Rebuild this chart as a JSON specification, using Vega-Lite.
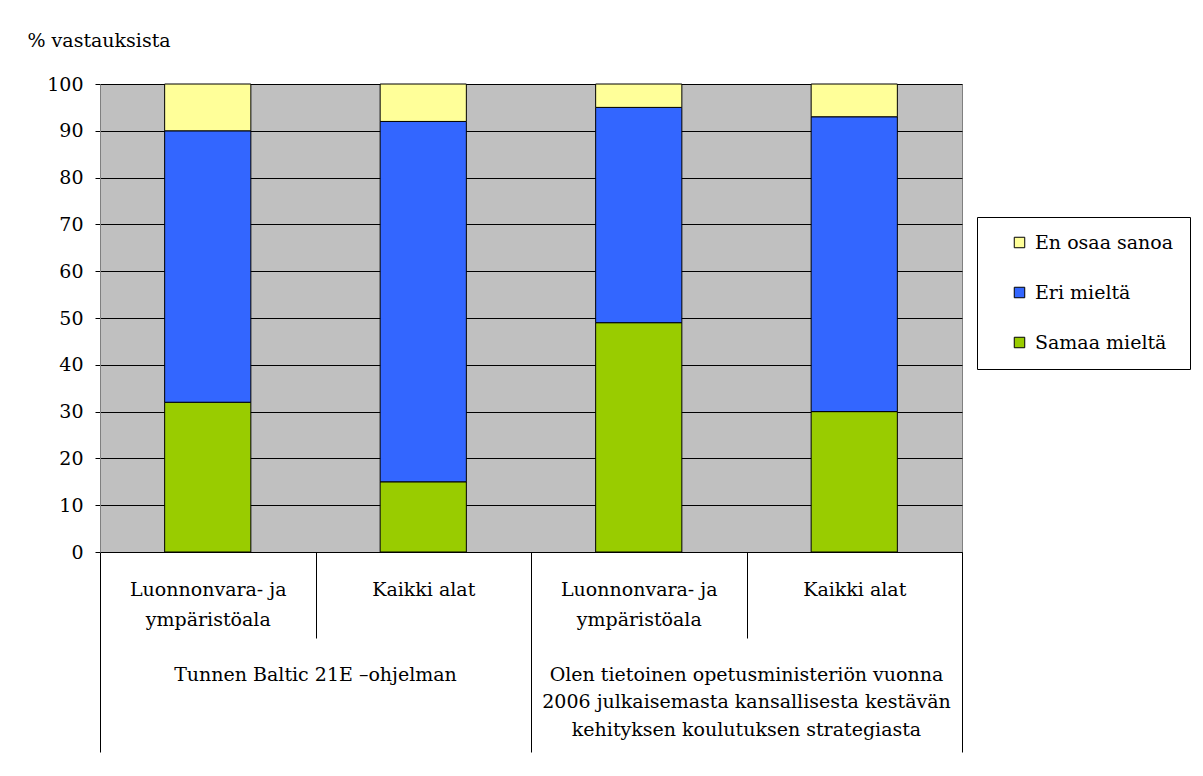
{
  "$schema": "https://vega.github.io/schema/vega-lite/v6.json",
  "autosize": "none",
  "width": 862,
  "height": 468,
  "padding": {"left": 100, "top": 84, "right": 241, "bottom": 224},
  "background": "white",
  "config": {
    "font": "DejaVu Serif",
    "view": {"fill": "#c0c0c0", "stroke": "#808080", "strokeWidth": 1},
    "text": {"lineBreak": "\n"}
  },
  "layer": [
    {
      "data": {
        "values": [
          {"sarake": "T-Luonnonvara", "vastaus": "Samaa mieltä", "osuus": 32},
          {"sarake": "T-Luonnonvara", "vastaus": "Eri mieltä", "osuus": 58},
          {"sarake": "T-Luonnonvara", "vastaus": "En osaa sanoa", "osuus": 10},
          {"sarake": "T-Kaikki", "vastaus": "Samaa mieltä", "osuus": 15},
          {"sarake": "T-Kaikki", "vastaus": "Eri mieltä", "osuus": 77},
          {"sarake": "T-Kaikki", "vastaus": "En osaa sanoa", "osuus": 8},
          {"sarake": "O-Luonnonvara", "vastaus": "Samaa mieltä", "osuus": 49},
          {"sarake": "O-Luonnonvara", "vastaus": "Eri mieltä", "osuus": 46},
          {"sarake": "O-Luonnonvara", "vastaus": "En osaa sanoa", "osuus": 5},
          {"sarake": "O-Kaikki", "vastaus": "Samaa mieltä", "osuus": 30},
          {"sarake": "O-Kaikki", "vastaus": "Eri mieltä", "osuus": 63},
          {"sarake": "O-Kaikki", "vastaus": "En osaa sanoa", "osuus": 7}
        ]
      },
      "mark": {"type": "bar", "width": {"band": 0.4}, "stroke": "black", "strokeWidth": 1},
      "encoding": {
        "x": {
          "field": "sarake",
          "type": "nominal",
          "scale": {"domain": ["T-Luonnonvara", "T-Kaikki", "O-Luonnonvara", "O-Kaikki"], "paddingInner": 0, "paddingOuter": 0},
          "axis": {
            "title": null,
            "labelAngle": 0,
            "labelExpr": "(datum.value === 'T-Luonnonvara' || datum.value === 'O-Luonnonvara') ? ['Luonnonvara- ja', 'ympäristöala'] : ((datum.value === 'T-Kaikki' || datum.value === 'O-Kaikki') ? 'Kaikki alat' : '')",
            "labelFont": "DejaVu Serif",
            "labelFontSize": 19,
            "labelColor": "black",
            "labelLineHeight": 30,
            "labelBaseline": "top",
            "labelOverlap": false,
            "labelBound": false,
            "labelPadding": {"condition": {"test": "datum.value === 'T-Luonnonvara' || datum.value === 'O-Luonnonvara'", "value": -58}, "value": -172},
            "tickBand": "extent",
            "tickColor": "black",
            "tickSize": {"condition": {"test": "datum.value === 'T-Luonnonvara' || datum.value === 'O-Luonnonvara'", "value": 86}, "value": 200},
            "domainColor": "black",
            "grid": false
          }
        },
        "y": {
          "field": "osuus",
          "type": "quantitative",
          "stack": "zero",
          "scale": {"domain": [0, 100], "nice": false},
          "axis": {
            "title": "% vastauksista",
            "titleAngle": 0,
            "titleAlign": "left",
            "titleBaseline": "alphabetic",
            "titleX": -73,
            "titleY": -38,
            "titleFont": "DejaVu Serif",
            "titleFontSize": 19,
            "titleFontWeight": "normal",
            "titleColor": "black",
            "values": [0, 10, 20, 30, 40, 50, 60, 70, 80, 90, 100],
            "labelFont": "DejaVu Serif",
            "labelFontSize": 19,
            "labelColor": "black",
            "labelPadding": 12,
            "tickSize": 5,
            "tickColor": "black",
            "domainColor": "#808080",
            "grid": true,
            "gridColor": "black",
            "gridOpacity": 1,
            "gridWidth": 1
          }
        },
        "color": {
          "field": "vastaus",
          "type": "nominal",
          "scale": {"domain": ["En osaa sanoa", "Eri mieltä", "Samaa mieltä"], "range": ["#ffff99", "#3366ff", "#99cc00"]},
          "legend": {
            "title": null,
            "orient": "none",
            "legendX": 877,
            "legendY": 133,
            "strokeColor": "black",
            "fillColor": "white",
            "padding": 16,
            "symbolType": "square",
            "symbolSize": 110,
            "symbolStrokeColor": "black",
            "symbolStrokeWidth": 1,
            "symbolOffset": 17,
            "rowPadding": 30,
            "labelFont": "DejaVu Serif",
            "labelFontSize": 19,
            "labelColor": "black",
            "labelOffset": 6
          }
        },
        "order": {"field": "vastaus", "sort": "descending"}
      }
    },
    {
      "data": {
        "values": [
          {"sarake": "T-Kaikki", "kysymys": "Tunnen Baltic 21E –ohjelman"},
          {"sarake": "O-Kaikki", "kysymys": "Olen tietoinen opetusministeriön vuonna\n2006 julkaisemasta kansallisesta kestävän\nkehityksen koulutuksen strategiasta"}
        ]
      },
      "mark": {"type": "text", "font": "DejaVu Serif", "fontSize": 19, "color": "black", "baseline": "alphabetic", "align": "center", "lineHeight": 27.5},
      "encoding": {
        "x": {"field": "sarake", "type": "nominal", "bandPosition": 0},
        "y": {"datum": -27.5, "type": "quantitative"},
        "text": {"field": "kysymys"}
      }
    }
  ]
}
